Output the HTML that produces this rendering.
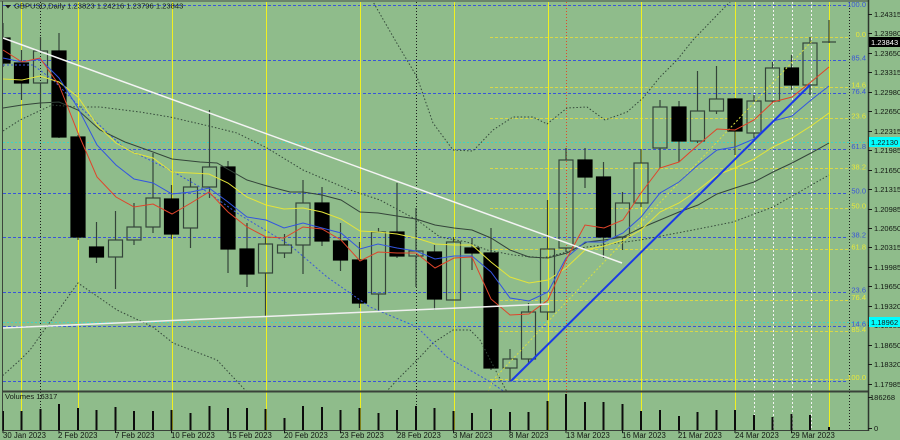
<!DOCTYPE html>
<html>
<head>
<meta charset="utf-8">
<style>
html,body{margin:0;padding:0;background:#8FBC8B;}
svg{display:block;}
text{font-family:"Liberation Sans",sans-serif;}
</style>
</head>
<body>
<svg width="900" height="440" viewBox="0 0 900 440" xmlns="http://www.w3.org/2000/svg">
<defs>
<clipPath id="main"><rect x="2.5" y="2" width="865.5" height="389"/></clipPath>
<clipPath id="vol"><rect x="2.5" y="392" width="865.5" height="38.5"/></clipPath>
</defs>
<rect x="0" y="0" width="900" height="440" fill="#8FBC8B"/>

<g clip-path="url(#main)">
<!-- blue fib levels -->
<g stroke="#3a55d8" stroke-width="1" stroke-dasharray="3,2" fill="none">
<line x1="3" y1="5.5" x2="848" y2="5.5"/>
<line x1="3" y1="60.5" x2="848" y2="60.5"/>
<line x1="3" y1="93.5" x2="848" y2="93.5"/>
<line x1="3" y1="149.5" x2="848" y2="149.5"/>
<line x1="3" y1="193.5" x2="848" y2="193.5"/>
<line x1="3" y1="237.5" x2="848" y2="237.5"/>
<line x1="3" y1="292.5" x2="848" y2="292.5"/>
<line x1="3" y1="326.5" x2="848" y2="326.5"/>
<line x1="3" y1="381.5" x2="848" y2="381.5"/>
</g>
<!-- yellow fib levels -->
<g stroke="#d8d848" stroke-width="1" stroke-dasharray="3,2" fill="none">
<line x1="490" y1="37.5" x2="848" y2="37.5"/>
<line x1="490" y1="87.5" x2="848" y2="87.5"/>
<line x1="490" y1="118.5" x2="848" y2="118.5"/>
<line x1="490" y1="168.5" x2="848" y2="168.5"/>
<line x1="490" y1="208.5" x2="848" y2="208.5"/>
<line x1="490" y1="249.5" x2="848" y2="249.5"/>
<line x1="490" y1="300.5" x2="848" y2="300.5"/>
<line x1="490" y1="331.5" x2="848" y2="331.5"/>
<line x1="490" y1="379.5" x2="848" y2="379.5"/>
</g>
<!-- cyan lines -->
<g stroke="#3fd4c4" stroke-width="1" stroke-dasharray="2,2">
<line x1="3" y1="142.5" x2="868" y2="142.5"/>
<line x1="3" y1="322.5" x2="868" y2="322.5"/>
</g>
</g>

<!-- vertical lines -->
<g stroke="#f0f020" stroke-width="1">
<line x1="21.5" y1="2" x2="21.5" y2="430"/>
<line x1="78.5" y1="2" x2="78.5" y2="430"/>
<line x1="172.5" y1="2" x2="172.5" y2="430"/>
<line x1="266.5" y1="2" x2="266.5" y2="430"/>
<line x1="360.5" y1="2" x2="360.5" y2="430"/>
<line x1="454.5" y1="2" x2="454.5" y2="430"/>
<line x1="548.5" y1="2" x2="548.5" y2="430"/>
<line x1="641.5" y1="2" x2="641.5" y2="430"/>
<line x1="735.5" y1="2" x2="735.5" y2="430"/>
<line x1="829.5" y1="2" x2="829.5" y2="430"/>
</g>
<g stroke="#1c1c1c" stroke-width="1" stroke-dasharray="1,2">
<line x1="40.5" y1="2" x2="40.5" y2="430"/>
<line x1="416.5" y1="2" x2="416.5" y2="430"/>
<line x1="849.5" y1="2" x2="849.5" y2="430"/>
</g>
<line x1="566.5" y1="2" x2="566.5" y2="430" stroke="#e04a2a" stroke-width="1" stroke-dasharray="1,2"/>
<g stroke="#f4f4f4" stroke-width="1" stroke-dasharray="2,2">
<line x1="754.5" y1="2" x2="754.5" y2="430"/>
<line x1="773.5" y1="2" x2="773.5" y2="430"/>
<line x1="792.5" y1="2" x2="792.5" y2="430"/>
<line x1="811.5" y1="2" x2="811.5" y2="430"/>
</g>

<g clip-path="url(#main)">
<!-- candles -->
<g stroke="#34443a" stroke-width="1.2">
<line x1="3" y1="23" x2="3" y2="67"/><rect x="-4" y="38" width="14" height="25" fill="#000" stroke="#000"/>
<line x1="21.5" y1="50" x2="21.5" y2="100"/><rect x="14.5" y="63" width="14" height="20" fill="#000" stroke="#000"/>
<line x1="40.5" y1="37" x2="40.5" y2="51"/><line x1="40.5" y1="83" x2="40.5" y2="107"/><rect x="33.5" y="51" width="14" height="32" fill="none"/>
<line x1="59" y1="33" x2="59" y2="138"/><rect x="52" y="51" width="14" height="86" fill="#000" stroke="#000"/>
<line x1="78" y1="135" x2="78" y2="240"/><rect x="71" y="137" width="14" height="100" fill="#000" stroke="#000"/>
<line x1="96.5" y1="222" x2="96.5" y2="263"/><rect x="89.5" y="247" width="14" height="10" fill="#000" stroke="#000"/>
<line x1="115.5" y1="211" x2="115.5" y2="240"/><line x1="115.5" y1="257" x2="115.5" y2="289"/><rect x="108.5" y="240" width="14" height="17" fill="none"/>
<line x1="134" y1="203" x2="134" y2="227"/><line x1="134" y1="240" x2="134" y2="245"/><rect x="127" y="227" width="14" height="13" fill="none"/>
<line x1="153" y1="153" x2="153" y2="198"/><line x1="153" y1="227" x2="153" y2="233"/><rect x="146" y="198" width="14" height="29" fill="none"/>
<line x1="171.5" y1="185" x2="171.5" y2="239"/><rect x="164.5" y="199" width="14" height="35" fill="#000" stroke="#000"/>
<line x1="190.5" y1="178" x2="190.5" y2="187"/><line x1="190.5" y1="228" x2="190.5" y2="248"/><rect x="183.5" y="187" width="14" height="41" fill="none"/>
<line x1="209.5" y1="110" x2="209.5" y2="167"/><line x1="209.5" y1="187" x2="209.5" y2="198"/><rect x="202.5" y="167" width="14" height="20" fill="none"/>
<line x1="228" y1="161" x2="228" y2="273"/><rect x="221" y="167" width="14" height="82" fill="#000" stroke="#000"/>
<line x1="247" y1="223" x2="247" y2="287"/><rect x="240" y="249" width="14" height="25" fill="#000" stroke="#000"/>
<line x1="265.5" y1="237" x2="265.5" y2="244"/><line x1="265.5" y1="273" x2="265.5" y2="316"/><rect x="258.5" y="244" width="14" height="29" fill="none"/>
<line x1="284.5" y1="234" x2="284.5" y2="245"/><line x1="284.5" y1="253" x2="284.5" y2="258"/><rect x="277.5" y="245" width="14" height="8" fill="none"/>
<line x1="303" y1="180" x2="303" y2="203"/><line x1="303" y1="245" x2="303" y2="274"/><rect x="296" y="203" width="14" height="42" fill="none"/>
<line x1="322" y1="187" x2="322" y2="246"/><rect x="315" y="203" width="14" height="38" fill="#000" stroke="#000"/>
<line x1="340.5" y1="223" x2="340.5" y2="271"/><rect x="333.5" y="241" width="14" height="19" fill="#000" stroke="#000"/>
<line x1="359.5" y1="242" x2="359.5" y2="308"/><rect x="352.5" y="260" width="14" height="43" fill="#000" stroke="#000"/>
<line x1="378.5" y1="228" x2="378.5" y2="232"/><line x1="378.5" y1="294" x2="378.5" y2="311"/><rect x="371.5" y="232" width="14" height="62" fill="none"/>
<line x1="397" y1="183" x2="397" y2="258"/><rect x="390" y="232" width="14" height="24" fill="#000" stroke="#000"/>
<line x1="416" y1="208" x2="416" y2="251"/><line x1="416" y1="256" x2="416" y2="287"/><rect x="409" y="251" width="14" height="5" fill="none"/>
<line x1="434.5" y1="245" x2="434.5" y2="310"/><rect x="427.5" y="252" width="14" height="47" fill="#000" stroke="#000"/>
<line x1="453.5" y1="237" x2="453.5" y2="242"/><rect x="446.5" y="242" width="14" height="58" fill="none"/>
<line x1="472" y1="238" x2="472" y2="270"/><rect x="465" y="248" width="14" height="5" fill="#000" stroke="#000"/>
<line x1="491" y1="228" x2="491" y2="370"/><rect x="484" y="253" width="14" height="115" fill="#000" stroke="#000"/>
<line x1="510" y1="349" x2="510" y2="359"/><line x1="510" y1="368" x2="510" y2="381"/><rect x="503" y="359" width="14" height="9" fill="none"/>
<line x1="528.5" y1="303" x2="528.5" y2="312"/><line x1="528.5" y1="359" x2="528.5" y2="363"/><rect x="521.5" y="312" width="14" height="47" fill="none"/>
<line x1="547.5" y1="200" x2="547.5" y2="249"/><line x1="547.5" y1="312" x2="547.5" y2="320"/><rect x="540.5" y="249" width="14" height="63" fill="none"/>
<line x1="566" y1="148" x2="566" y2="160"/><line x1="566" y1="248" x2="566" y2="252"/><rect x="559" y="160" width="14" height="88" fill="none"/>
<line x1="585" y1="148" x2="585" y2="188"/><rect x="578" y="160" width="14" height="17" fill="#000" stroke="#000"/>
<line x1="603.5" y1="162" x2="603.5" y2="258"/><rect x="596.5" y="177" width="14" height="60" fill="#000" stroke="#000"/>
<line x1="622.5" y1="192" x2="622.5" y2="203"/><line x1="622.5" y1="237" x2="622.5" y2="250"/><rect x="615.5" y="203" width="14" height="34" fill="none"/>
<line x1="641" y1="149" x2="641" y2="163"/><line x1="641" y1="203" x2="641" y2="207"/><rect x="634" y="163" width="14" height="40" fill="none"/>
<line x1="660" y1="100" x2="660" y2="107"/><line x1="660" y1="148" x2="660" y2="168"/><rect x="653" y="107" width="14" height="41" fill="none"/>
<line x1="679" y1="101" x2="679" y2="162"/><rect x="672" y="107" width="14" height="34" fill="#000" stroke="#000"/>
<line x1="697.5" y1="71" x2="697.5" y2="111"/><line x1="697.5" y1="141" x2="697.5" y2="143"/><rect x="690.5" y="111" width="14" height="30" fill="none"/>
<line x1="716.5" y1="66" x2="716.5" y2="99"/><line x1="716.5" y1="111" x2="716.5" y2="114"/><rect x="709.5" y="99" width="14" height="12" fill="none"/>
<line x1="735" y1="98" x2="735" y2="155"/><rect x="728" y="99" width="14" height="32" fill="#000" stroke="#000"/>
<line x1="754" y1="95" x2="754" y2="101"/><line x1="754" y1="133" x2="754" y2="138"/><rect x="747" y="101" width="14" height="32" fill="none"/>
<line x1="772.5" y1="62" x2="772.5" y2="68"/><line x1="772.5" y1="101" x2="772.5" y2="103"/><rect x="765.5" y="68" width="14" height="33" fill="none"/>
<line x1="791.5" y1="55" x2="791.5" y2="90"/><rect x="784.5" y="68" width="14" height="17" fill="#000" stroke="#000"/>
<line x1="810" y1="37" x2="810" y2="43"/><line x1="810" y1="85" x2="810" y2="95"/><rect x="803" y="43" width="14" height="42" fill="none"/>
<line x1="829" y1="20" x2="829" y2="43"/><line x1="822" y1="42" x2="836" y2="42"/>
</g>

<!-- bollinger / dotted -->
<g fill="none" stroke="#34483a" stroke-width="1" stroke-dasharray="1.5,2">
<polyline points="3,131 20,120 52,105 77,107 100,107 140,112 170,117 213,127 237,133 267,148 303,170 350,190 380,200 417,220 440,237 467,242 487,250 513,255 543,258 563,253 580,248 640,240 693,230 733,222 773,207 829,175"/>
<polyline points="372,0 395,40 417,77 433,123 453,150 473,151 493,130 513,117 533,117 547,124 567,108 587,107 605,120 627,112 643,98 660,77 677,60 693,40 720,12 732,0"/>
<polyline points="0,378 20,360 30,350 55,315 78,283 117,310 153,327 173,343 217,360 247,392"/>
<polyline points="386,392 400,377 420,357 433,343 453,330 470,330 480,340 497,373 507,392"/>
</g>
<polyline fill="none" stroke="#3a58d8" stroke-width="1" stroke-dasharray="2,2" points="3,65 33,65 53,80 80,107 123,147 170,170 200,187 240,215 290,245 327,277 370,307 417,327 447,357 487,380 505,392"/>
<polyline fill="none" stroke="#d8e040" stroke-width="1" stroke-dasharray="2,2" points="488,392 493,380 813,40"/>

<!-- moving averages -->
<polyline fill="none" stroke="#34443a" stroke-width="1" points="3,108 22,105 40,103 59,102 78,110 100,130 125,142 153,152 172,159 200,162 217,163 247,180 267,186 290,192 303,192 322,195 341,200 360,212 378,213 397,216 416,219 435,225 454,228 472,230 491,238 510,250 529,257 548,258 567,253 587,242 604,240 623,237 641,228 660,220 679,212 698,205 717,194 735,188 754,182 773,172 792,163 811,153 829,143"/>
<polyline fill="none" stroke="#e4e43a" stroke-width="1" points="3,79 22,80 40,76 59,82 78,97 97,125 116,143 134,153 153,158 172,172 191,173 209,174 228,183 247,197 266,205 284,209 303,208 322,212 341,219 360,231 378,232 397,234 416,238 435,244 454,245 472,245 491,262 510,277 529,283 548,280 566,268 585,250 604,246 623,240 641,230 660,212 679,203 698,190 717,175 735,168 754,159 773,147 792,138 811,126 829,113"/>
<polyline fill="none" stroke="#3355e0" stroke-width="1" points="3,58 22,62 40,59 59,78 78,108 97,145 116,165 134,179 153,183 172,194 191,192 209,188 228,202 247,217 266,220 284,228 303,223 322,228 341,233 360,249 378,244 397,248 416,251 435,259 454,256 472,256 491,272 510,298 529,301 548,292 566,258 585,242 604,242 623,233 641,217 660,193 679,182 698,165 717,150 735,147 754,139 773,121 792,116 811,100 829,86"/>
<polyline fill="none" stroke="#e0442a" stroke-width="1" points="3,50 22,62 40,58 59,85 78,133 97,177 116,197 134,207 153,204 172,214 191,203 209,192 228,212 247,227 266,237 284,238 303,227 322,229 341,240 360,261 378,252 397,253 416,253 435,268 454,258 472,257 491,299 510,315 529,314 548,300 566,260 585,225 604,228 623,220 641,193 660,168 679,162 698,145 717,129 735,130 754,120 773,102 792,97 811,82 829,67"/>

<!-- trendlines -->
<line x1="3" y1="38" x2="622" y2="263" stroke="#f4f4f4" stroke-width="1.5"/>
<line x1="3" y1="328" x2="549" y2="304" stroke="#f0f0f0" stroke-width="1.5"/>
<line x1="511" y1="381" x2="810" y2="85" stroke="#1a3ae6" stroke-width="2"/>
</g>

<!-- frame -->
<line x1="0" y1="1" x2="868" y2="1" stroke="#5f705f" stroke-width="1.5"/>
<line x1="2.5" y1="1" x2="2.5" y2="431" stroke="#3c463c" stroke-width="1"/>
<line x1="2" y1="391.5" x2="868" y2="391.5" stroke="#3a423a" stroke-width="2"/>
<line x1="2" y1="430.5" x2="868" y2="430.5" stroke="#3a423a" stroke-width="1"/>
<line x1="868.5" y1="0" x2="868.5" y2="431" stroke="#2e362e" stroke-width="1.5"/>

<!-- volumes -->
<g clip-path="url(#vol)" stroke="#0c0c0c" stroke-width="2">
<line x1="3" y1="411" x2="3" y2="430"/>
<line x1="21.5" y1="411" x2="21.5" y2="430"/>
<line x1="40.5" y1="409" x2="40.5" y2="430"/>
<line x1="59" y1="404" x2="59" y2="430"/>
<line x1="78" y1="408" x2="78" y2="430"/>
<line x1="96.5" y1="410" x2="96.5" y2="430"/>
<line x1="115.5" y1="407" x2="115.5" y2="430"/>
<line x1="134" y1="411" x2="134" y2="430"/>
<line x1="153" y1="411" x2="153" y2="430"/>
<line x1="171.5" y1="410" x2="171.5" y2="430"/>
<line x1="190.5" y1="413" x2="190.5" y2="430"/>
<line x1="209.5" y1="406" x2="209.5" y2="430"/>
<line x1="228" y1="408" x2="228" y2="430"/>
<line x1="247" y1="408" x2="247" y2="430"/>
<line x1="265.5" y1="409" x2="265.5" y2="430"/>
<line x1="284.5" y1="418" x2="284.5" y2="430"/>
<line x1="303" y1="406" x2="303" y2="430"/>
<line x1="322" y1="407" x2="322" y2="430"/>
<line x1="340.5" y1="410" x2="340.5" y2="430"/>
<line x1="359.5" y1="408" x2="359.5" y2="430"/>
<line x1="378.5" y1="413" x2="378.5" y2="430"/>
<line x1="397" y1="410" x2="397" y2="430"/>
<line x1="416" y1="406" x2="416" y2="430"/>
<line x1="434.5" y1="408" x2="434.5" y2="430"/>
<line x1="453.5" y1="411" x2="453.5" y2="430"/>
<line x1="472" y1="413" x2="472" y2="430"/>
<line x1="491" y1="409" x2="491" y2="430"/>
<line x1="510" y1="412" x2="510" y2="430"/>
<line x1="528.5" y1="412" x2="528.5" y2="430"/>
<line x1="547.5" y1="401" x2="547.5" y2="430"/>
<line x1="566" y1="394" x2="566" y2="430"/>
<line x1="585" y1="402" x2="585" y2="430"/>
<line x1="603.5" y1="402" x2="603.5" y2="430"/>
<line x1="622.5" y1="404" x2="622.5" y2="430"/>
<line x1="641" y1="411" x2="641" y2="430"/>
<line x1="660" y1="410" x2="660" y2="430"/>
<line x1="679" y1="416" x2="679" y2="430"/>
<line x1="697.5" y1="412" x2="697.5" y2="430"/>
<line x1="716.5" y1="410" x2="716.5" y2="430"/>
<line x1="735" y1="410" x2="735" y2="430"/>
<line x1="754" y1="415" x2="754" y2="430"/>
<line x1="772.5" y1="417" x2="772.5" y2="430"/>
<line x1="791.5" y1="414" x2="791.5" y2="430"/>
<line x1="810" y1="415" x2="810" y2="430"/>
<line x1="829" y1="427" x2="829" y2="430"/>
</g>

<!-- title -->
<polygon points="5,5 11,5 8,8.5" fill="#1a1a1a"/>
<text x="14" y="8.5" font-size="7.6" fill="#141a14">GBPUSD,Daily  1.23823 1.24216 1.23796 1.23843</text>
<text x="5" y="399" font-size="7.6" fill="#141a14">Volumes 16317</text>

<!-- fib labels -->
<g font-size="7.5" text-anchor="end" fill="#3a55d8">
<text x="866" y="7">100.0</text>
<text x="866" y="60.5">85.4</text>
<text x="866" y="94">76.4</text>
<text x="866" y="149">61.8</text>
<text x="866" y="193.5">50.0</text>
<text x="866" y="237.5">38.2</text>
<text x="866" y="292.5">23.6</text>
<text x="866" y="326.5">14.6</text>
</g>
<g font-size="7.5" text-anchor="end" fill="#e8e83a">
<text x="866" y="37">0.0</text>
<text x="866" y="87.5">14.6</text>
<text x="866" y="118.5">23.6</text>
<text x="866" y="169.5">38.2</text>
<text x="866" y="208.5">50.0</text>
<text x="866" y="249.5">61.8</text>
<text x="866" y="300">76.4</text>
<text x="866" y="332">85.4</text>
<text x="866" y="380">100.0</text>
</g>

<!-- price axis -->
<g stroke="#1a1a1a" stroke-width="1">
<line x1="868" y1="14.5" x2="872" y2="14.5"/>
<line x1="868" y1="33.5" x2="872" y2="33.5"/>
<line x1="868" y1="53.5" x2="872" y2="53.5"/>
<line x1="868" y1="72.5" x2="872" y2="72.5"/>
<line x1="868" y1="92.5" x2="872" y2="92.5"/>
<line x1="868" y1="111.5" x2="872" y2="111.5"/>
<line x1="868" y1="131.5" x2="872" y2="131.5"/>
<line x1="868" y1="150.5" x2="872" y2="150.5"/>
<line x1="868" y1="170.5" x2="872" y2="170.5"/>
<line x1="868" y1="189.5" x2="872" y2="189.5"/>
<line x1="868" y1="209.5" x2="872" y2="209.5"/>
<line x1="868" y1="228.5" x2="872" y2="228.5"/>
<line x1="868" y1="247.5" x2="872" y2="247.5"/>
<line x1="868" y1="267.5" x2="872" y2="267.5"/>
<line x1="868" y1="286.5" x2="872" y2="286.5"/>
<line x1="868" y1="306.5" x2="872" y2="306.5"/>
<line x1="868" y1="325.5" x2="872" y2="325.5"/>
<line x1="868" y1="345.5" x2="872" y2="345.5"/>
<line x1="868" y1="364.5" x2="872" y2="364.5"/>
<line x1="868" y1="384.5" x2="872" y2="384.5"/>
<line x1="868" y1="397.5" x2="872" y2="397.5"/>
<line x1="868" y1="428.5" x2="872" y2="428.5"/>
</g>
<g font-size="7.5" fill="#121812">
<text x="874" y="17">1.24315</text>
<text x="874" y="36">1.23980</text>
<text x="874" y="56">1.23650</text>
<text x="874" y="75">1.23315</text>
<text x="874" y="95">1.22980</text>
<text x="874" y="114">1.22650</text>
<text x="874" y="134">1.22315</text>
<text x="874" y="153">1.21985</text>
<text x="874" y="173">1.21650</text>
<text x="874" y="192">1.21315</text>
<text x="874" y="212">1.20985</text>
<text x="874" y="231">1.20650</text>
<text x="874" y="250">1.20315</text>
<text x="874" y="270">1.19985</text>
<text x="874" y="289">1.19650</text>
<text x="874" y="309">1.19320</text>
<text x="874" y="328">1.18985</text>
<text x="874" y="348">1.18650</text>
<text x="874" y="367">1.18320</text>
<text x="874" y="387">1.17985</text>
<text x="870" y="400">186268</text>
<text x="874" y="431">0</text>
</g>
<rect x="869" y="37" width="31" height="10" fill="#000"/>
<text x="871" y="45" font-size="7.5" fill="#ffffff">1.23843</text>
<rect x="869" y="137" width="31" height="10" fill="#00ffff"/>
<text x="871" y="145" font-size="7.5" fill="#1a1a1a">1.22130</text>
<rect x="869" y="317" width="31" height="10" fill="#00ffff"/>
<text x="871" y="325" font-size="7.5" fill="#1a1a1a">1.18962</text>

<!-- date axis -->
<g stroke="#1a1a1a" stroke-width="1">
<line x1="3" y1="430" x2="3" y2="433"/>
<line x1="59" y1="430" x2="59" y2="433"/>
<line x1="115.5" y1="430" x2="115.5" y2="433"/>
<line x1="171.5" y1="430" x2="171.5" y2="433"/>
<line x1="228" y1="430" x2="228" y2="433"/>
<line x1="284.5" y1="430" x2="284.5" y2="433"/>
<line x1="340.5" y1="430" x2="340.5" y2="433"/>
<line x1="397" y1="430" x2="397" y2="433"/>
<line x1="453.5" y1="430" x2="453.5" y2="433"/>
<line x1="510" y1="430" x2="510" y2="433"/>
<line x1="566" y1="430" x2="566" y2="433"/>
<line x1="622.5" y1="430" x2="622.5" y2="433"/>
<line x1="679" y1="430" x2="679" y2="433"/>
<line x1="735" y1="430" x2="735" y2="433"/>
<line x1="791.5" y1="430" x2="791.5" y2="433"/>
</g>
<g font-size="7.8" fill="#121812">
<text x="3" y="438">30 Jan 2023</text>
<text x="58" y="438">2 Feb 2023</text>
<text x="115" y="438">7 Feb 2023</text>
<text x="171" y="438">10 Feb 2023</text>
<text x="228" y="438">15 Feb 2023</text>
<text x="284" y="438">20 Feb 2023</text>
<text x="340" y="438">23 Feb 2023</text>
<text x="397" y="438">28 Feb 2023</text>
<text x="453" y="438">3 Mar 2023</text>
<text x="509" y="438">8 Mar 2023</text>
<text x="566" y="438">13 Mar 2023</text>
<text x="622" y="438">16 Mar 2023</text>
<text x="678" y="438">21 Mar 2023</text>
<text x="735" y="438">24 Mar 2023</text>
<text x="791" y="438">29 Mar 2023</text>
</g>
</svg>
</body>
</html>
